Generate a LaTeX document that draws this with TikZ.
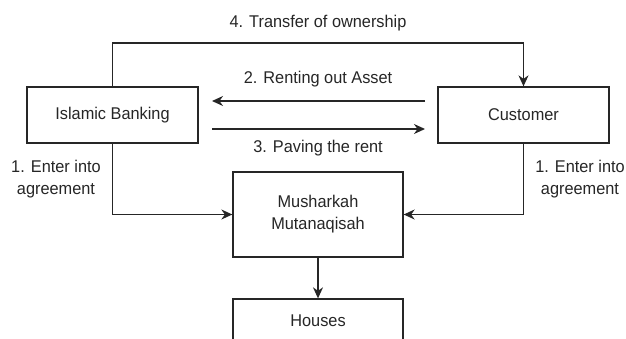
\documentclass[tikz,border=0pt]{standalone}
\usepackage{fontspec}
\setmainfont{Liberation Sans}[FakeStretch=0.96]
\usetikzlibrary{arrows.meta,calc}
\begin{document}
\begin{tikzpicture}[x=1pt,y=-1pt,
  box/.style={draw=black!85,line width=1.3pt,minimum width=171pt,inner sep=0pt,align=center,font=\fontsize{17}{22}\selectfont,text=black!85},
  lbl/.style={inner sep=0pt,align=center,font=\fontsize{17}{22}\selectfont,text=black!85},
  conn/.style={draw=black!85,line width=1.3pt},
  arr/.style={conn,-{Stealth[length=11pt,width=10pt,inset=3.5pt]}}]
\useasboundingbox (0,0) rectangle (626,338);
\clip (0,0) rectangle (626,338);
\node[box,minimum height=56pt] (ib) at (112.5,115) {Islamic Banking};
\node[box,minimum height=56pt] (cu) at (523.5,115) {Customer};
\node[box,minimum width=170pt,minimum height=85pt] (mm) at (318,214.5) {Musharkah\\Mutanaqisah};
\node[box,minimum width=170pt,minimum height=44pt] (ho) at (318,321) {Houses};
\coordinate (top) at (112.5,43);
\coordinate (a2s) at (425,101);
\coordinate (a2e) at (212,101);
\coordinate (a3s) at (212,129);
\coordinate (a3e) at (425,129);
\draw[arr] (ib.north) -- (top) -| (cu.north);
\draw[arr] (a2s) -- (a2e);
\draw[arr] (a3s) -- (a3e);
\draw[arr] (ib.south) |- (mm.west);
\draw[arr] (cu.south) |- (mm.east);
\draw[arr] (mm.south) -- (ho.north);
\node[lbl] (l4) at (318,23) {4. Transfer of ownership};
\node[lbl] (l2) at (318,79) {2. Renting out Asset};
\node[lbl] (l3) at (318,148) {3. Paving the rent};
\node[lbl] (l1a) at (56,179) {1. Enter into\\agreement};
\node[lbl] (l1b) at (580,179) {1. Enter into\\agreement};
\end{tikzpicture}
\end{document}
